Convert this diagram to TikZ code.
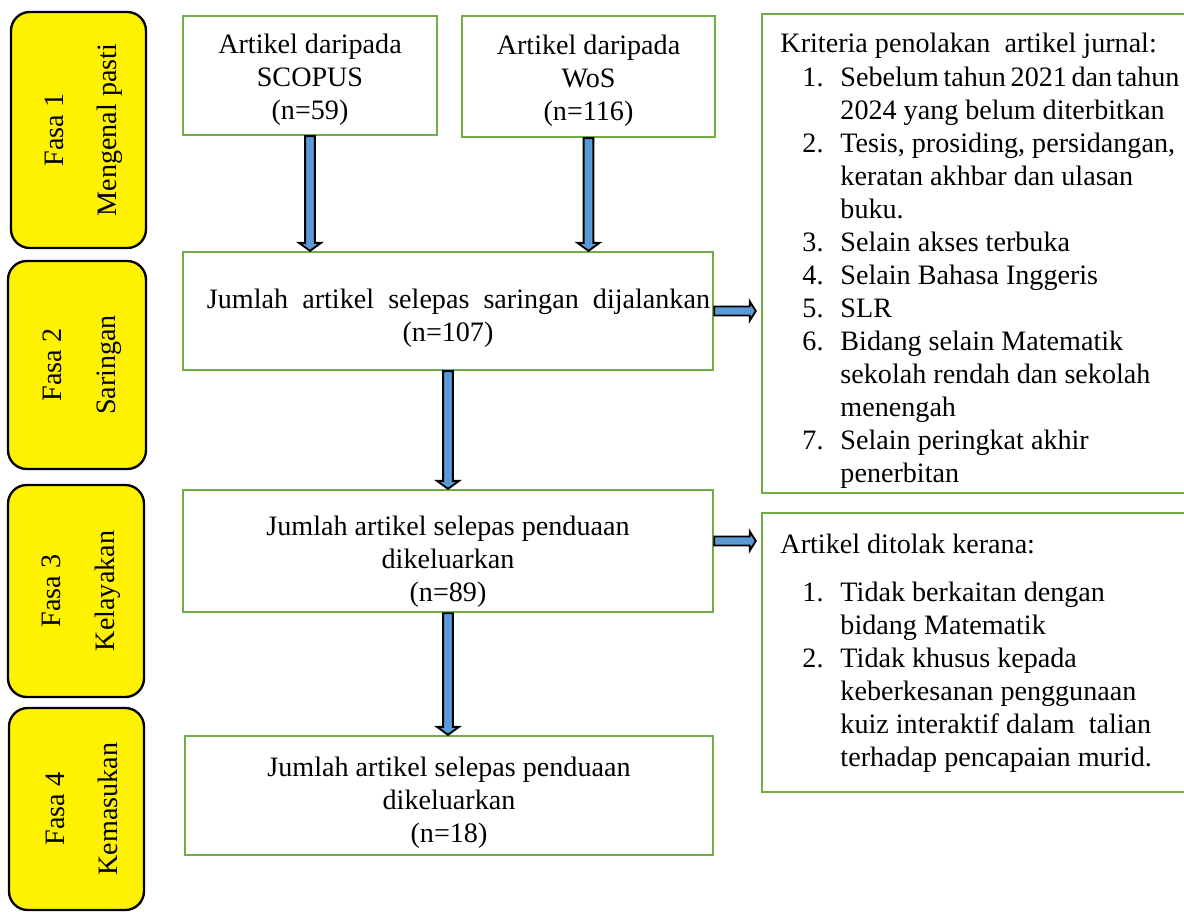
\documentclass[tikz,border=0pt]{standalone}
\usepackage{fontspec}
\setmainfont{Liberation Serif}
\usepackage{tikz}
\usetikzlibrary{calc}
\definecolor{boxgreen}{HTML}{70AD47}
\definecolor{arrowblue}{HTML}{5B9BD5}
\newcommand{\numline}[1]{\hspace*{0.33cm}\makebox[0.57cm][l]{#1}}
\newcommand{\contline}{\hspace*{0.9cm}}
\newcommand{\dropline}[1]{\rule{0pt}{#1}}
\newcommand{\downblock}[2]{%
  \draw[blockarrow] let \p1=(#1), \p2=(#2) in
    (\x1-2.1pt,\y1) -- (\x1+2.1pt,\y1) -- (\x1+2.1pt,\y2+3.4pt)
    -- (\x1+4.7pt,\y2+3.4pt) -- (\x1,\y2) -- (\x1-4.7pt,\y2+3.4pt)
    -- (\x1-2.1pt,\y2+3.4pt) -- cycle;}
\newcommand{\rightblock}[2]{%
  \draw[blockarrow] let \p1=(#1), \p2=(#2) in
    (\x1,\y1+1.9pt) -- (\x2-2.6pt,\y1+1.9pt) -- (\x2-2.6pt,\y1+4.1pt)
    -- (\x2,\y1) -- (\x2-2.6pt,\y1-4.1pt) -- (\x2-2.6pt,\y1-1.9pt)
    -- (\x1,\y1-1.9pt) -- cycle;}

\begin{document}
\begin{tikzpicture}[x=0.015cm,y=-0.015cm,
  font=\fontsize{12}{14.1}\selectfont,
  greenbox/.style={rectangle,draw=boxgreen,line width=1pt,fill=white,inner sep=0pt,align=center},
  phasebox/.style={rectangle,rounded corners=8pt,draw=black,line width=1pt,fill=yellow,inner sep=0pt,align=center,rotate=90},
  listtext/.style={anchor=north west,align=left,inner sep=0pt},
  blockarrow/.style={draw=black,fill=arrowblue,line width=0.8pt,line join=miter}]
\path[use as bounding box,clip] (0,0) rectangle (1184,911);
% Phases
\node[phasebox,minimum width=3.54cm,minimum height=2.025cm] (fasa1) at (78.5,130) {\dropline{12.4pt}Fasa 1\\[8.6pt]Mengenal pasti};
\node[phasebox,minimum width=3.12cm,minimum height=2.07cm] (fasa2) at (77,365) {\dropline{12.4pt}Fasa 2\\[8.6pt]Saringan};
\node[phasebox,minimum width=3.18cm,minimum height=2.04cm] (fasa3) at (76,591) {\dropline{12.4pt}Fasa 3\\[8.6pt]Kelayakan};
\node[phasebox,minimum width=3.03cm,minimum height=2.025cm] (fasa4) at (76.5,809) {\dropline{12.4pt}Fasa 4\\[8.6pt]Kemasukan};
% Flow boxes
\node[greenbox,minimum width=3.81cm,minimum height=1.785cm] (scopus) at (310,75.5) {\dropline{11.6pt}Artikel daripada\\SCOPUS\\(n=59)};
\node[greenbox,minimum width=3.795cm,minimum height=1.815cm] (wos) at (588.5,76.5) {\dropline{11.6pt}Artikel daripada\\WoS\\(n=116)};
\node[greenbox,minimum width=7.95cm,minimum height=1.77cm] (saringan) at (448,311) {\dropline{14.2pt}\hspace*{0.315cm}\makebox[7.545cm][s]{Jumlah artikel selepas saringan dijalankan}\\(n=107)};
\node[greenbox,minimum width=7.95cm,minimum height=1.83cm] (kelayakan) at (448,551) {\dropline{17.6pt}Jumlah artikel selepas penduaan\\dikeluarkan\\(n=89)};
\node[greenbox,minimum width=7.92cm,minimum height=1.785cm] (kemasukan) at (449,795.5) {\dropline{14.2pt}Jumlah artikel selepas penduaan\\dikeluarkan\\(n=18)};
% Exclusion boxes
\node[greenbox,minimum width=6.57cm,minimum height=7.185cm] (crit) at (981,253.5) {};
\node[greenbox,minimum width=6.57cm,minimum height=4.185cm] (tolak) at (981,652.5) {};
\node[listtext] (crittext) at (780,33) {Kriteria penolakan\ \ artikel jurnal:\\
\numline{1.}\makebox[5.07cm][s]{Sebelum tahun 2021 dan tahun}\\
\contline 2024 yang belum diterbitkan\\
\numline{2.}Tesis, prosiding, persidangan,\\
\contline keratan akhbar dan ulasan\\
\contline buku.\\
\numline{3.}Selain akses terbuka\\
\numline{4.}Selain Bahasa Inggeris\\
\numline{5.}SLR\\
\numline{6.}Bidang selain Matematik\\
\contline sekolah rendah dan sekolah\\
\contline menengah\\
\numline{7.}Selain peringkat akhir\\
\contline penerbitan};
\node[listtext] (tolaktext) at (780,534) {Artikel ditolak kerana:\\[6pt]
\numline{1.}Tidak berkaitan dengan\\
\contline bidang Matematik\\
\numline{2.}Tidak khusus kepada\\
\contline keberkesanan penggunaan\\
\contline kuiz interaktif dalam\ \ talian\\
\contline terhadap pencapaian murid.};
% Arrows
\downblock{scopus.south}{scopus.south |- saringan.north}
\downblock{wos.south}{wos.south |- saringan.north}
\downblock{saringan.south}{kelayakan.north}
\downblock{kelayakan.south}{kemasukan.north}
\rightblock{saringan.east}{[xshift=-0.075cm]crit.west}
\rightblock{[yshift=0.15cm]kelayakan.east}{[xshift=-0.075cm]tolak.west}
\end{tikzpicture}
\end{document}
